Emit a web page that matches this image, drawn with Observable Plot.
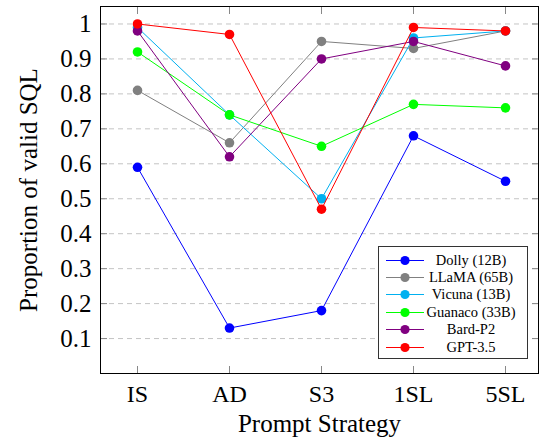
<!DOCTYPE html>
<html><head><meta charset="utf-8">
<script src="https://cdn.jsdelivr.net/npm/d3@7"></script>
<script src="https://cdn.jsdelivr.net/npm/@observablehq/plot@0.6"></script>
<style>
body{margin:0;background:#fff;}
#wrap{position:relative;width:539px;height:439px;font-family:"Liberation Serif","Times New Roman",serif;}
#wrap svg, #wrap svg text{font-family:"Liberation Serif","Times New Roman",serif !important;}
#legend{position:absolute;left:378px;top:246px;width:150px;height:113px;border:1px solid #333;background:#fff;box-sizing:border-box;font-family:"Liberation Serif","Times New Roman",serif;}
.row{position:absolute;left:0;width:148px;height:17px;}
.row svg{position:absolute;left:0;top:0;}
.row span{position:absolute;left:42px;width:100px;text-align:center;font-size:14.5px;font-weight:normal;line-height:17px;top:0;color:#000;white-space:nowrap;}
</style></head><body><div id="wrap"></div>
<script>
const strategies = ["IS", "AD", "S3", "1SL", "5SL"];
const models = ["Dolly (12B)", "LLaMA (65B)", "Vicuna (13B)", "Guanaco (33B)", "Bard-P2", "GPT-3.5"];
const colors = ["#0000ff", "#808080", "#00b0f0", "#00ff00", "#800080", "#ff0000"];
const dolly   = [0.59, 0.13, 0.18, 0.68, 0.55];
const llama   = [0.81, 0.66, 0.95, 0.93, 0.98];
const vicuna  = [0.99, 0.74, 0.50, 0.96, 0.98];
const guanaco = [0.92, 0.74, 0.65, 0.77, 0.76];
const bard    = [0.98, 0.62, 0.90, 0.95, 0.88];
const gpt     = [1.00, 0.97, 0.47, 0.99, 0.98];
const yTicks = [0.1, 0.2, 0.3, 0.4, 0.5, 0.6, 0.7, 0.8, 0.9, 1];
const yTickLabels = ["0.1", "0.2", "0.3", "0.4", "0.5", "0.6", "0.7", "0.8", "0.9", "1"];
const xLabel = "Prompt Strategy";
const yLabel = "Proportion of valid SQL";

const series = [dolly, llama, vicuna, guanaco, bard, gpt];
const seriesMarks = series.flatMap((vals, i) => {
  const rows = strategies.map((s, j) => ({strategy: s, value: vals[j]}));
  return [
    Plot.line(rows, {x: "strategy", y: "value", stroke: colors[i], strokeWidth: 1}),
    Plot.dot(rows, {x: "strategy", y: "value", r: 4.8, fill: colors[i], stroke: "none"})
  ];
});

const chart = Plot.plot({
  width: 539,
  height: 439,
  marginLeft: 100,
  marginRight: 1,
  marginTop: 6,
  marginBottom: 66,
  style: {fontFamily: '"Liberation Serif","Times New Roman",serif', background: "white"},
  x: {type: "point", domain: strategies, padding: 0.38, align: 0.53, axis: null},
  y: {domain: [0, 1.05], axis: null},
  marks: [
    Plot.ruleY(yTicks, {stroke: "#c4c4c4", strokeDasharray: "5,4"}),
    Plot.axisY(yTicks, {anchor: "left", tickSize: -7, stroke: "#888", tickFormat: () => "", label: null}),
    Plot.axisY(yTicks, {anchor: "right", tickSize: -7, stroke: "#888", tickFormat: () => "", label: null}),
    Plot.axisX(strategies, {anchor: "bottom", tickSize: -7, stroke: "#888", tickFormat: () => "", label: null}),
    Plot.axisX(strategies, {anchor: "top", tickSize: -7, stroke: "#888", tickFormat: () => "", label: null}),
    Plot.text(yTicks, {y: d => d, text: (d, i) => yTickLabels[i], frameAnchor: "left", textAnchor: "end", lineAnchor: "middle", dx: -9, fontSize: 25, fill: "black"}),
    Plot.text(strategies, {x: d => d, text: d => d, frameAnchor: "bottom", lineAnchor: "top", dy: 11, fontSize: 24, fill: "black"}),
    Plot.frame({stroke: "black"}),
    ...seriesMarks,
    Plot.text([yLabel], {frameAnchor: "left", textAnchor: "middle", lineAnchor: "middle", rotate: -90, dx: -72, fontSize: 25}),
    Plot.text([xLabel], {frameAnchor: "bottom", lineAnchor: "middle", dy: 50, fontSize: 25})
  ]
});

const wrap = document.getElementById("wrap");
wrap.appendChild(chart);

const legend = document.createElement("div");
legend.id = "legend";
models.forEach((m, i) => {
  const row = document.createElement("div");
  row.className = "row";
  row.style.top = (13 + i * 17.4 - 8.5) + "px";
  row.innerHTML = `<svg width="48" height="17"><line x1="7" x2="45" y1="8.5" y2="8.5" stroke="${colors[i]}" stroke-width="1.2"/><circle cx="26" cy="8.5" r="4.6" fill="${colors[i]}"/></svg><span>${m}</span>`;
  legend.appendChild(row);
});
wrap.appendChild(legend);
</script>
</body></html>
